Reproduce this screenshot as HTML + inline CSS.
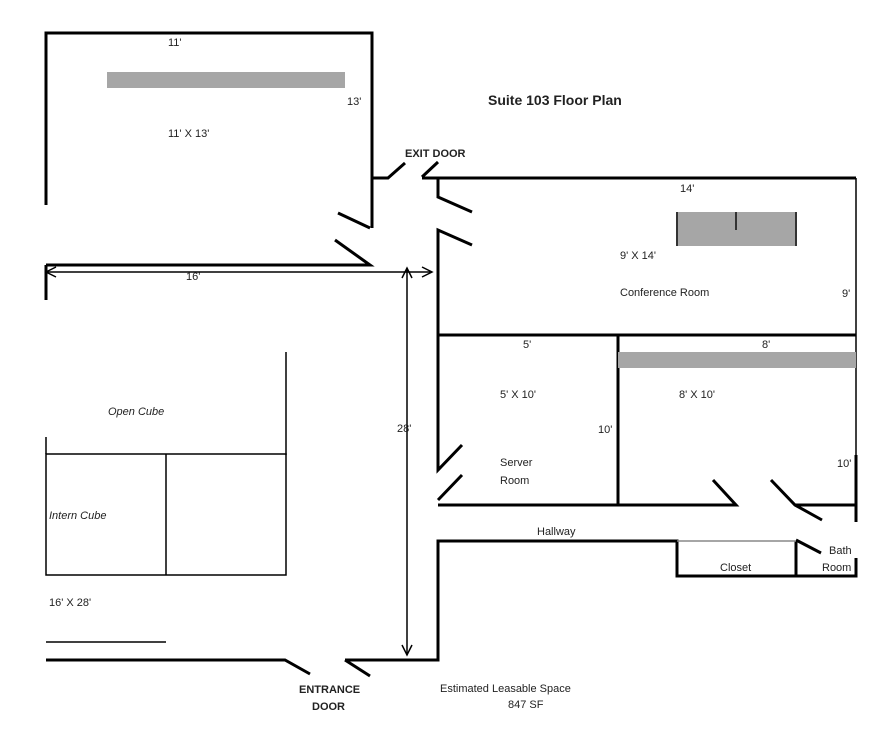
<!DOCTYPE html>
<html><head><style>body{margin:0;background:#fff}svg{display:block}text{font-family:"Liberation Sans",sans-serif;font-size:11px;fill:#222}</style></head><body>
<svg width="885" height="738" viewBox="0 0 885 738">
<g stroke="#000" stroke-width="3" fill="none">
<polyline points="46,205 46,33 372,33 372,178 388,178 405,163"/>
<line x1="372" y1="178" x2="372" y2="228"/>
<line x1="46" y1="265" x2="46" y2="300"/>
<polyline points="338,213 370,228"/>
<polyline points="335,240 370,265 46,265"/>
<polyline points="422,177 438,162"/>
<polyline points="422,178 856,178"/>
<polyline points="472,212 438,197 438,178"/>
<polyline points="472,245 438,230 438,470 462,445"/>
<line x1="438" y1="335" x2="856" y2="335"/>
<line x1="618" y1="335" x2="618" y2="505"/>
<polyline points="462,475 438,500"/>
<polyline points="438,505 736,505 713,480"/>
<polyline points="771,480 795,505 822,520"/>
<line x1="795" y1="505" x2="856" y2="505"/>
<line x1="856" y1="455" x2="856" y2="522"/>
<polyline points="345,660 438,660 438,541 677,541 677,576 856,576 856,558"/>
<line x1="796" y1="541" x2="796" y2="576"/>
<polyline points="345,660 370,676"/>
<polyline points="46,660 285,660 310,674"/>
<line x1="796" y1="540" x2="821" y2="553"/>
</g>
<g stroke="#000" stroke-width="1.5" fill="none">
<line x1="856" y1="178" x2="856" y2="455"/>
<line x1="286" y1="352" x2="286" y2="455"/>
<rect x="46" y="454" width="240" height="121"/>
<line x1="46" y1="437" x2="46" y2="454"/>
<line x1="166" y1="454" x2="166" y2="575"/>
<line x1="46" y1="642" x2="166" y2="642"/>
<line x1="677" y1="541" x2="796" y2="541" stroke="#888"/>
<line x1="46" y1="272" x2="432" y2="272"/>
<polyline points="56,267 46,272 56,277"/><polyline points="422,267 432,272 422,277"/>
<line x1="407" y1="268" x2="407" y2="655"/>
<polyline points="402,278 407,268 412,278"/><polyline points="402,645 407,655 412,645"/>
</g>
<rect x="107" y="72" width="238" height="16" fill="#a6a6a6"/>
<rect x="677" y="212" width="119" height="34" fill="#a6a6a6"/>
<g stroke="#333" stroke-width="2"><line x1="677" y1="212" x2="677" y2="246"/><line x1="736" y1="212" x2="736" y2="230"/><line x1="796" y1="212" x2="796" y2="246"/></g>
<rect x="618" y="352" width="238" height="16" fill="#a6a6a6"/>
<text x="488" y="105" style="font-size:14px;font-weight:bold">Suite 103 Floor Plan</text>
<text x="405" y="157" style="font-weight:bold">EXIT DOOR</text>
<text x="168" y="46">11'</text><text x="347" y="105">13'</text><text x="168" y="137">11' X 13'</text>
<text x="186" y="280">16'</text>
<text x="680" y="192">14'</text><text x="620" y="259">9' X 14'</text><text x="620" y="296">Conference Room</text><text x="842" y="297">9'</text>
<text x="523" y="348">5'</text><text x="762" y="348">8'</text>
<text x="500" y="398">5' X 10'</text><text x="679" y="398">8' X 10'</text>
<text x="397" y="432">28'</text><text x="598" y="433">10'</text><text x="837" y="467">10'</text>
<text x="500" y="466">Server</text><text x="500" y="484">Room</text>
<text x="537" y="535">Hallway</text><text x="720" y="571">Closet</text>
<text x="829" y="554">Bath</text><text x="822" y="571">Room</text>
<text x="108" y="415" style="font-style:italic">Open Cube</text>
<text x="49" y="519" style="font-style:italic">Intern Cube</text>
<text x="49" y="606">16' X 28'</text>
<text x="299" y="693" style="font-weight:bold">ENTRANCE</text><text x="312" y="710" style="font-weight:bold">DOOR</text>
<text x="440" y="692">Estimated Leasable   Space</text><text x="508" y="708">847 SF</text>
</svg></body></html>
